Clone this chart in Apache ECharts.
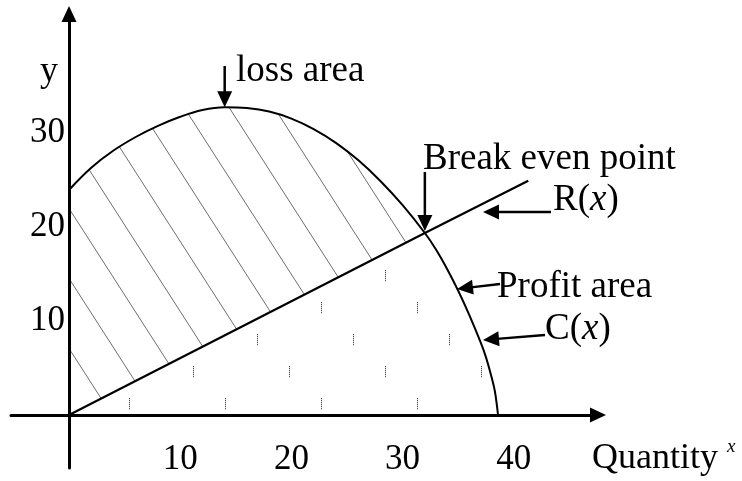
<!DOCTYPE html>
<html>
<head>
<meta charset="utf-8">
<script src="https://cdn.jsdelivr.net/npm/echarts@6/dist/echarts.min.js"></script>
<style>
  html, body { margin: 0; padding: 0; background: #fff; }
  #chart { width: 742px; height: 481px; }
</style>
</head>
<body>
<div id="chart"></div>
<script>
// Cost curve C(x): quantity and cost
const costQty = [0, 2, 4, 6, 8, 10, 12, 14, 16, 18, 20, 22, 24, 26, 28, 30, 32, 33, 34, 35, 36, 37, 37.5, 38, 38.3, 38.58];
const costVal = [23.91, 26.27, 28.10, 29.54, 30.72, 31.69, 32.41, 32.71, 32.62, 32.25, 31.50, 30.38, 28.92, 27.09, 24.87, 22.30, 19.34, 17.59, 15.52, 13.20, 10.61, 7.76, 6.12, 4.01, 2.50, 0];

// Revenue line R(x)
const revQty = [0, 32, 41.3];
const revVal = [0, 19.34, 24.9];

// Where R(x) meets C(x), and the top of C(x)
const breakEven = [32, 19.34];
const costPeak = [14, 32.71];

// Axis tick labels
const xTicks = [10, 20, 30, 40];
const yTicks = [10, 20, 30];

const SERIF = '"Liberation Serif", "Times New Roman", serif';

// Diagonal hatching tile for the loss area
function hatchTile() {
  const c = document.createElement('canvas');
  c.width = 45; c.height = 70;
  const g = c.getContext('2d');
  g.strokeStyle = '#6e6e6e';
  g.lineWidth = 1;
  for (let k = -2; k <= 2; k++) {
    g.beginPath();
    g.moveTo(25 + k * 45, 0);
    g.lineTo(25 + k * 45 + 45, 70);
    g.stroke();
  }
  return c;
}

// Sparse dotted dashes for the profit area (opaque white ground)
function dashTile() {
  const c = document.createElement('canvas');
  c.width = 96; c.height = 96;
  const g = c.getContext('2d');
  g.fillStyle = '#fff';
  g.fillRect(0, 0, 96, 96);
  g.fillStyle = '#555';
  const dash = (x, cy) => { for (let i = 0; i < 6; i++) g.fillRect(x, cy - 6 + i * 2, 1, 1.3); };
  dash(1, 84); dash(33, 20); dash(65, 52);
  return c;
}

const costPts = costQty.map((q, i) => [q, costVal[i]]);
const revPts = revQty.map((q, i) => [q, revVal[i]]);
// Profit region: under R(x) up to break-even, then under C(x)
const profitPts = revPts.filter(p => p[0] <= breakEven[0])
  .concat(costPts.filter(p => p[0] > breakEven[0]));

const chart = echarts.init(document.getElementById('chart'), null, { renderer: 'canvas' });

const axisCommon = {
  type: 'value',
  z: 5,
  splitLine: { show: false },
  axisTick: { show: false },
  axisLine: {
    show: true,
    onZero: false,
    symbol: ['none', 'triangle'],
    symbolSize: [15, 16],
    lineStyle: { color: '#000', width: 3 }
  }
};

// The axes are shifted into the plot so that they cross at (0, 0)
chart.setOption({
  animation: false,
  backgroundColor: '#fff',
  grid: { left: 11, right: 144, top: 14, bottom: 13, containLabel: false, outerBoundsMode: 'none' },
  xAxis: Object.assign({}, axisCommon, {
    min: -5.216, max: 47.57,
    position: 'bottom', offset: -53,
    axisLabel: {
      customValues: xTicks, margin: 27,
      fontFamily: SERIF, fontSize: 35, color: '#000'
    }
  }),
  yAxis: Object.assign({}, axisCommon, {
    min: -5.632, max: 42.61,
    position: 'left', offset: -58,
    axisLabel: {
      customValues: yTicks, margin: 4,
      fontFamily: SERIF, fontSize: 35, color: '#000'
    }
  }),
  series: [
    {
      name: 'loss area', type: 'line', data: costPts, smooth: 0.4,
      symbol: 'none', silent: true,
      lineStyle: { width: 0 },
      areaStyle: { color: { image: hatchTile(), repeat: 'repeat' }, opacity: 1 }
    },
    {
      name: 'profit area', type: 'line', data: profitPts,
      symbol: 'none', silent: true,
      lineStyle: { width: 0 },
      areaStyle: { color: { image: dashTile(), repeat: 'repeat' }, opacity: 1 }
    },
    {
      name: 'C(x)', type: 'line', data: costPts, smooth: 0.4,
      symbol: 'none', silent: true,
      lineStyle: { color: '#000', width: 2 }
    },
    {
      name: 'R(x)', type: 'line', data: revPts,
      symbol: 'none', silent: true,
      lineStyle: { color: '#000', width: 2.2 }
    }
  ]
});

// Annotations: text placed by its baseline, arrows pointing at the curves
function text(str, x, baseline, size, italic) {
  return {
    type: 'text', x: x, y: baseline - 0.3375 * size, z: 10, silent: true,
    style: {
      text: str, fill: '#000', align: 'left', verticalAlign: 'middle',
      font: (italic ? 'italic ' : '') + size + 'px ' + SERIF
    }
  };
}
function fnText(letter, x, baseline, size) {
  return {
    type: 'text', x: x, y: baseline - 0.3375 * size, z: 10, silent: true,
    style: {
      text: '{n|' + letter + '(}{i|x}{n|)}', align: 'left', verticalAlign: 'middle',
      rich: {
        n: { font: size + 'px ' + SERIF, fill: '#000' },
        i: { font: 'italic ' + size + 'px ' + SERIF, fill: '#000' }
      }
    }
  };
}
function arrow(tail, tip) {
  const len = 16, half = 7.5;
  const dx = tip[0] - tail[0], dy = tip[1] - tail[1];
  const d = Math.hypot(dx, dy), ux = dx / d, uy = dy / d;
  const bx = tip[0] - ux * len, by = tip[1] - uy * len;
  return [
    { type: 'line', z: 10, silent: true,
      shape: { x1: tail[0], y1: tail[1], x2: bx + ux * 2, y2: by + uy * 2 },
      style: { stroke: '#000', lineWidth: 2.5 } },
    { type: 'polygon', z: 10, silent: true,
      shape: { points: [tip, [bx - uy * half, by + ux * half], [bx + uy * half, by - ux * half]] },
      style: { fill: '#000' } }
  ];
}

const peakPx = chart.convertToPixel({ gridIndex: 0 }, costPeak);
const bePx = chart.convertToPixel({ gridIndex: 0 }, breakEven);

chart.setOption({
  graphic: [
    text('y', 40, 84, 36),
    text('loss area', 236, 84, 37),
    text('Break even point', 423, 172, 37),
    fnText('R', 553, 213, 37),
    text('Profit area', 497, 300, 37),
    fnText('C', 545, 342, 37),
    text('Quantity', 592, 471, 36),
    text('x', 727, 453, 19, true)
  ].concat(
    arrow([peakPx[0], 66], [peakPx[0], peakPx[1]]),
    arrow([bePx[0], 172], [bePx[0], bePx[1] - 2]),
    arrow([551, 212], [483, 212]),
    arrow([500, 284], [457, 289]),
    arrow([545, 335], [483, 340])
  )
});
</script>
</body>
</html>
